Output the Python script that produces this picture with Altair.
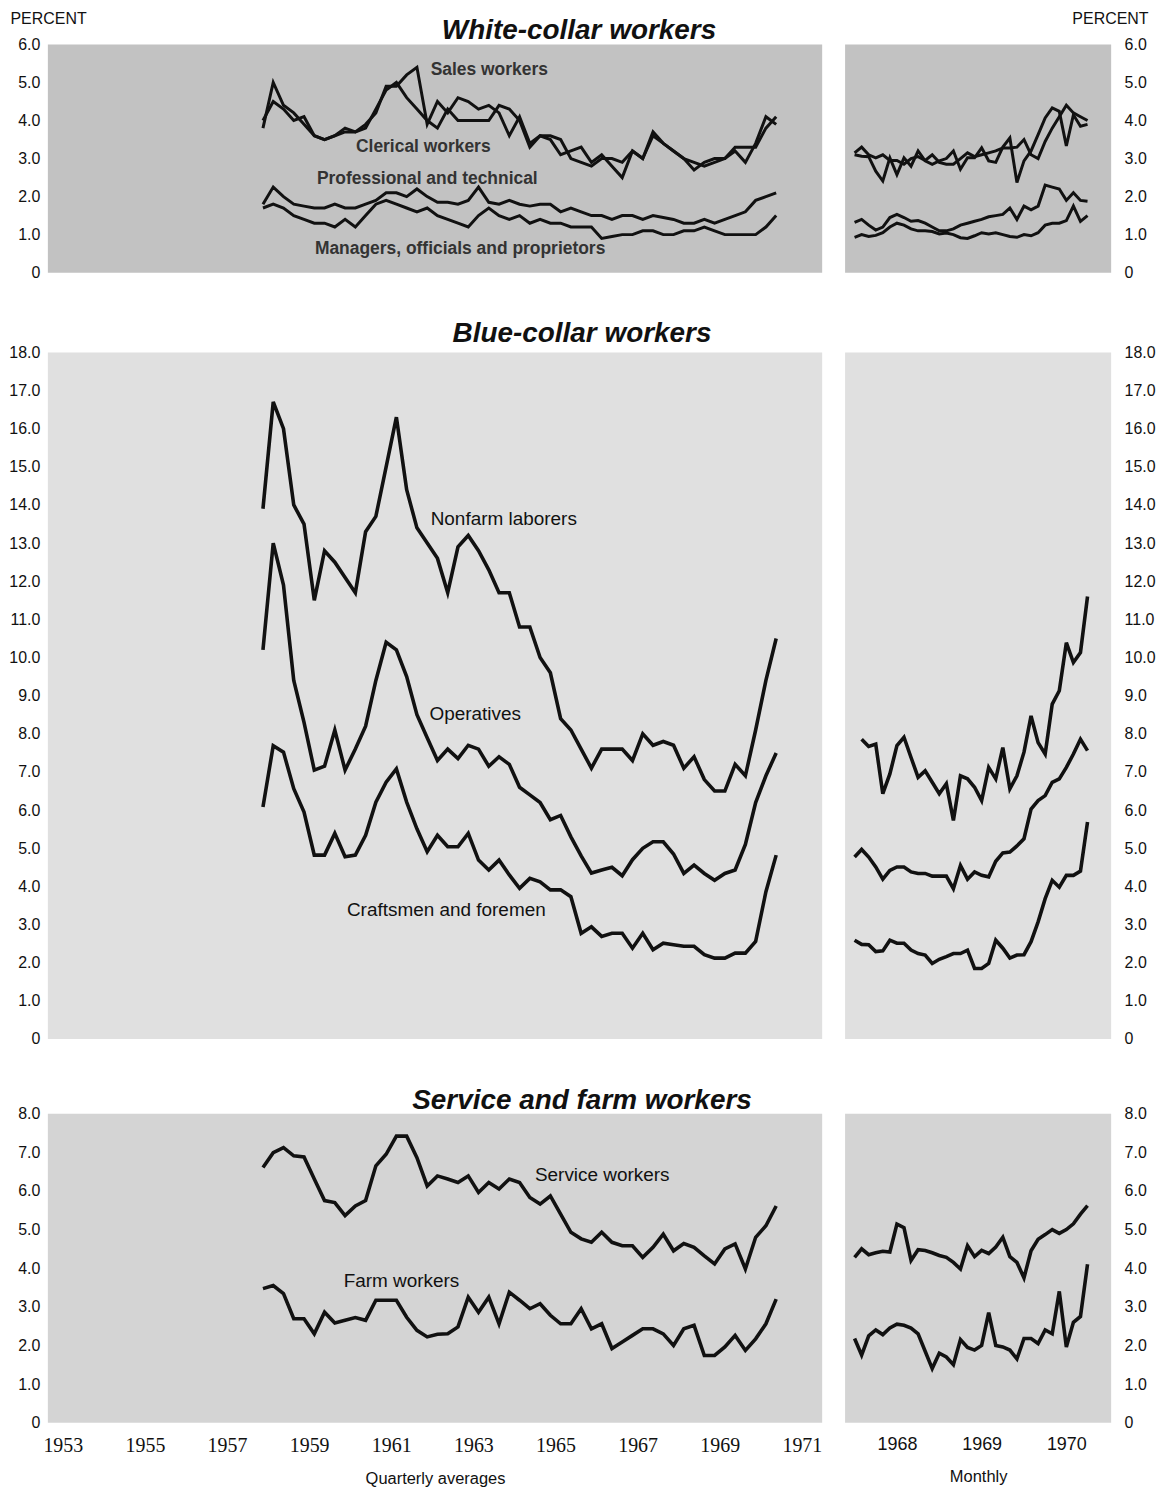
import altair as alt
import pandas as pd

FONT = "Liberation Sans"
SERIF = "Liberation Serif"
INK = "#111111"

# ---------------- time bases ----------------
Q_START = 1957.875      # first quarterly average (4th quarter 1957)
Q_STEP = 0.25
M_START = 1967.5        # first monthly point (July 1967)
M_STEP = 1.0 / 12.0

LEFT_YEARS = [1953, 1955, 1957, 1959, 1961, 1963, 1965, 1967, 1969, 1971]
RIGHT_YEARS = [1968, 1969, 1970]
LEFT_DOMAIN = [1952.636, 1971.495]
RIGHT_DOMAIN = [1967.388, 1970.529]

# ---------------- White-collar workers, quarterly ----------------
clerical_q = [3.8, 5.0, 4.4, 4.2, 3.9, 3.6, 3.5, 3.6, 3.7, 3.7,
              3.8, 4.3, 4.8, 5.0, 4.6, 4.3, 4.0, 3.8, 4.3, 4.0,
              4.0, 4.0, 4.0, 4.4, 4.3, 4.0, 3.3, 3.6, 3.6, 3.5,
              3.0, 2.9, 2.8, 3.0, 3.0, 2.9, 3.2, 3.0, 3.7, 3.4,
              3.2, 3.0, 2.9, 2.8, 2.9, 3.0, 3.3, 3.3, 3.3, 3.8,
              4.1]
sales_q = [4.0, 4.5, 4.3, 4.0, 4.1, 3.6, 3.5, 3.6, 3.8, 3.7,
           3.9, 4.2, 4.9, 4.9, 5.2, 5.4, 3.9, 4.5, 4.2, 4.6,
           4.5, 4.3, 4.4, 4.2, 3.6, 4.1, 3.4, 3.6, 3.5, 3.1,
           3.2, 3.3, 2.9, 3.1, 2.8, 2.5, 3.2, 3.0, 3.6, 3.4,
           3.2, 3.0, 2.7, 2.9, 3.0, 3.0, 3.2, 2.9, 3.4, 4.1,
           3.9]
prof_q = [1.8, 2.25, 2.0, 1.8, 1.75, 1.7, 1.7, 1.8, 1.7, 1.7,
          1.8, 1.9, 2.1, 2.1, 2.0, 2.2, 2.0, 1.85, 1.85, 1.8,
          1.9, 2.25, 1.85, 1.8, 1.9, 1.8, 1.75, 1.8, 1.8, 1.6,
          1.7, 1.6, 1.5, 1.5, 1.4, 1.5, 1.5, 1.4, 1.5, 1.45,
          1.4, 1.3, 1.3, 1.4, 1.3, 1.4, 1.5, 1.6, 1.9, 2.0,
          2.1]
mgr_q = [1.7, 1.8, 1.7, 1.5, 1.4, 1.3, 1.3, 1.2, 1.4, 1.2,
         1.5, 1.8, 1.9, 1.8, 1.7, 1.6, 1.7, 1.5, 1.4, 1.3,
         1.2, 1.5, 1.7, 1.5, 1.4, 1.5, 1.3, 1.4, 1.3, 1.3,
         1.2, 1.2, 1.2, 0.9, 0.95, 1.0, 1.0, 1.1, 1.1, 1.0,
         1.0, 1.1, 1.1, 1.2, 1.1, 1.0, 1.0, 1.0, 1.0, 1.2,
         1.5]

# ---------------- Blue-collar workers, quarterly ----------------
nonfarm_q = [13.9, 16.7, 16.0, 14.0, 13.5, 11.5, 12.8, 12.5, 12.1, 11.7,
             13.3, 13.7, 15.0, 16.3, 14.4, 13.4, 13.0, 12.6, 11.7, 12.9,
             13.2, 12.8, 12.3, 11.7, 11.7, 10.8, 10.8, 10.0, 9.6, 8.4,
             8.1, 7.6, 7.1, 7.6, 7.6, 7.6, 7.3, 8.0, 7.7, 7.8,
             7.7, 7.1, 7.4, 6.8, 6.5, 6.5, 7.2, 6.9, 8.1, 9.4,
             10.5]
oper_q = [10.2, 13.0, 11.9, 9.4, 8.3, 7.05, 7.15, 8.1, 7.05, 7.6,
          8.2, 9.4, 10.4, 10.2, 9.5, 8.5, 7.9, 7.3, 7.6, 7.35,
          7.7, 7.6, 7.15, 7.4, 7.2, 6.6, 6.4, 6.2, 5.75, 5.86,
          5.3, 4.8, 4.35, 4.43, 4.5, 4.28, 4.7, 5.0, 5.17, 5.17,
          4.85, 4.34, 4.56, 4.34, 4.16, 4.34, 4.43, 5.1, 6.2, 6.9,
          7.5]
craft_q = [6.08, 7.69, 7.52, 6.56, 5.95, 4.82, 4.82, 5.39, 4.78, 4.82,
           5.34, 6.21, 6.73, 7.08, 6.21, 5.51, 4.91, 5.34, 5.04, 5.04,
           5.39, 4.69, 4.43, 4.69, 4.3, 3.95, 4.21, 4.12, 3.91, 3.91,
           3.73, 2.77, 2.94, 2.69, 2.77, 2.77, 2.38, 2.77, 2.34, 2.51,
           2.47, 2.43, 2.43, 2.21, 2.12, 2.12, 2.25, 2.25, 2.56, 3.86,
           4.82]

# ---------------- Service and farm workers, quarterly ----------------
service_q = [6.61, 6.99, 7.12, 6.91, 6.88, 6.31, 5.75, 5.7, 5.36, 5.61,
             5.75, 6.65, 6.95, 7.42, 7.42, 6.86, 6.13, 6.39, 6.31, 6.22,
             6.39, 5.96, 6.22, 6.05, 6.31, 6.22, 5.83, 5.66, 5.87, 5.4,
             4.93, 4.76, 4.67, 4.93, 4.67, 4.58, 4.58, 4.28, 4.54, 4.88,
             4.45, 4.64, 4.54, 4.32, 4.11, 4.5, 4.63, 3.98, 4.8, 5.1,
             5.61]
farm_q = [3.47, 3.55, 3.34, 2.69, 2.69, 2.3, 2.86, 2.58, 2.65, 2.72,
          2.65, 3.17, 3.17, 3.17, 2.73, 2.39, 2.22, 2.29, 2.3, 2.48,
          3.25, 2.86, 3.25, 2.56, 3.38, 3.17, 2.95, 3.08, 2.78, 2.56,
          2.56, 2.95, 2.43, 2.56, 1.92, 2.09, 2.26, 2.43, 2.43, 2.3,
          2.0, 2.43, 2.52, 1.74, 1.74, 1.96, 2.26, 1.87, 2.17, 2.56,
          3.2]

# ---------------- Monthly series ----------------
clerical_m = [3.15, 3.3, 3.1, 3.02, 3.1, 2.95, 2.95, 2.85, 3.0, 3.05,
              2.95, 3.1, 2.9, 2.85, 2.85, 3.0, 3.15, 3.05, 3.1, 3.15,
              3.2, 3.28, 3.28, 3.3, 3.5, 3.1, 3.0, 3.45, 3.8, 4.1,
              4.4, 4.2, 4.1, 4.0]
sales_m = [3.1, 3.06, 3.05, 2.67, 2.41, 3.02, 2.58, 3.02, 2.8, 3.2,
           2.94, 2.85, 2.94, 3.0, 3.2, 2.72, 3.02, 3.02, 3.28, 2.94,
           2.9, 3.3, 3.54, 2.37, 2.94, 3.2, 3.63, 4.07, 4.33, 4.24,
           3.33, 4.15, 3.85, 3.9]
prof_m = [1.32, 1.4, 1.25, 1.12, 1.2, 1.45, 1.53, 1.45, 1.35, 1.37,
          1.3, 1.2, 1.1, 1.1, 1.15, 1.25, 1.3, 1.35, 1.4, 1.47,
          1.5, 1.53, 1.7, 1.4, 1.75, 1.65, 1.75, 2.3, 2.25, 2.2,
          1.9, 2.1, 1.9, 1.88]
mgr_m = [0.93, 1.0, 0.95, 0.98, 1.05, 1.2, 1.3, 1.25, 1.15, 1.1,
         1.1, 1.08, 1.02, 1.04, 1.0, 0.92, 0.9, 0.97, 1.05, 1.02,
         1.05, 1.0, 0.95, 0.93, 1.0, 0.97, 1.05, 1.25, 1.3, 1.3,
         1.37, 1.75, 1.35, 1.5]
nonfarm_m = [7.86, 7.67, 7.73, 6.43, 6.95, 7.69, 7.91, 7.38, 6.86, 7.03,
             6.73, 6.43, 6.69, 5.73, 6.9, 6.82, 6.6, 6.25, 7.12, 6.82,
             7.64, 6.56, 6.9, 7.52, 8.47, 7.77, 7.47, 8.78, 9.13, 10.39,
             9.87, 10.13, 11.6]          # starts August 1967
oper_m = [4.77, 4.97, 4.77, 4.51, 4.19, 4.42, 4.51, 4.51, 4.38, 4.34,
          4.34, 4.27, 4.27, 4.27, 3.94, 4.55, 4.19, 4.38, 4.29, 4.25,
          4.66, 4.88, 4.9, 5.06, 5.25, 6.03, 6.25, 6.38, 6.73, 6.82,
          7.12, 7.47, 7.86, 7.56]
craft_m = [2.59, 2.48, 2.47, 2.29, 2.31, 2.59, 2.51, 2.51, 2.33, 2.24,
           2.2, 1.98, 2.09, 2.16, 2.24, 2.24, 2.33, 1.85, 1.85, 1.98,
           2.59, 2.38, 2.12, 2.2, 2.21, 2.55, 3.07, 3.68, 4.16, 3.98,
           4.29, 4.29, 4.4, 5.69]
service_m = [4.28, 4.5, 4.35, 4.4, 4.44, 4.42, 5.14, 5.05, 4.2, 4.48,
             4.46, 4.4, 4.33, 4.28, 4.15, 3.98, 4.58, 4.3, 4.46, 4.38,
             4.55, 4.8, 4.3, 4.15, 3.75, 4.45, 4.75, 4.87, 5.0, 4.9,
             5.0, 5.15, 5.4, 5.62]
farm_m = [2.18, 1.75, 2.25, 2.4, 2.28, 2.45, 2.55, 2.52, 2.45, 2.3,
          1.85, 1.4, 1.8, 1.7, 1.5, 2.15, 1.95, 1.88, 2.0, 2.85,
          2.0, 1.96, 1.88, 1.65, 2.18, 2.18, 2.05, 2.4, 2.3, 3.4,
          1.96, 2.6, 2.75, 4.1]

# ---------------- in-chart series labels (data coordinates) ----------------
white_lab_text = ["Sales workers", "Clerical workers", "Professional and technical",
                  "Managers, officials and proprietors"]
white_lab_t = [1961.96, 1960.14, 1959.19, 1959.14]
white_lab_v = [5.34, 3.3, 2.46, 0.63]

blue_lab_text = ["Nonfarm laborers", "Operatives", "Craftsmen and foremen"]
blue_lab_t = [1961.96, 1961.93, 1959.92]
blue_lab_v = [13.64, 8.52, 3.37]

serv_lab_text = ["Service workers", "Farm workers"]
serv_lab_t = [1964.5, 1959.84]
serv_lab_v = [6.4, 3.66]


def build(series, start, step, offsets=None):
    rows = []
    offsets = offsets or {}
    for name, vals in series.items():
        off = offsets.get(name, 0)
        for i, v in enumerate(vals):
            rows.append({"series": name, "t": start + (i + off) * step, "value": v})
    return pd.DataFrame(rows)


def labels(texts, ts, vs):
    return pd.DataFrame({"text": texts, "t": ts, "value": vs})


white_q_df = build({"Clerical": clerical_q, "Sales": sales_q,
                    "Professional": prof_q, "Managers": mgr_q}, Q_START, Q_STEP)
blue_q_df = build({"Nonfarm": nonfarm_q, "Operatives": oper_q,
                   "Craftsmen": craft_q}, Q_START, Q_STEP)
serv_q_df = build({"Service": service_q, "Farm": farm_q}, Q_START, Q_STEP)

white_m_df = build({"Clerical": clerical_m, "Sales": sales_m,
                    "Professional": prof_m, "Managers": mgr_m}, M_START, M_STEP)
blue_m_df = build({"Nonfarm": nonfarm_m, "Operatives": oper_m,
                   "Craftsmen": craft_m}, M_START, M_STEP, {"Nonfarm": 1})
serv_m_df = build({"Service": service_m, "Farm": farm_m}, M_START, M_STEP)

LEFT_W = 777
RIGHT_W = 267
LABEL_EXPR = "datum.value == 0 ? '0' : format(datum.value, '.1f')"


def y_axis(side, ymax, percent):
    kw = dict(orient=side, values=list(range(0, ymax + 1)), labelExpr=LABEL_EXPR,
              domain=False, ticks=False, tickSize=0, grid=False,
              labelPadding=8 if side == "left" else 13,
              labelFont=FONT, labelFontSize=16, labelColor=INK,
              labelAlign="right" if side == "left" else "left")
    if percent:
        kw.update(title="PERCENT", titleAngle=0, titleFont=FONT, titleFontSize=16,
                  titleFontWeight="normal", titleColor=INK, titleBaseline="top",
                  titleY=-34, titleX=-38 if side == "left" else 37,
                  titleAlign="left" if side == "left" else "right")
    else:
        kw["title"] = None
    return alt.Axis(**kw)


def x_axis(years, title, font, size):
    return alt.Axis(values=years, format="d", labelFlush=False, labelOverlap=False,
                    domain=False, ticks=False, tickSize=0, grid=False,
                    labelFont=font, labelFontSize=size, labelColor=INK, labelPadding=13,
                    title=title, titleFont=FONT, titleFontSize=16.5,
                    titleFontWeight="normal", titleColor=INK, titlePadding=15)


def panel(df, lab_df, domain, years, xtitle, xfont, xsize, side, ymax, height, width,
          fill, bottom, percent, lw, lab_size=19, lab_color=INK, lab_weight="normal"):
    xa = x_axis(years, xtitle, xfont, xsize) if bottom else None
    x = alt.X("t:Q", scale=alt.Scale(domain=domain, nice=False, zero=False), axis=xa)
    y = alt.Y("value:Q", scale=alt.Scale(domain=[0, ymax], nice=False),
              axis=y_axis(side, ymax, percent))
    lines = alt.Chart(df).mark_line(color=INK, strokeWidth=lw, clip=True).encode(
        x=x, y=y, detail="series:N")
    layers = [lines]
    if lab_df is not None:
        layers.append(alt.Chart(lab_df).mark_text(
            align="left", baseline="middle", font=FONT, fontSize=lab_size,
            fontWeight=lab_weight, color=lab_color).encode(x=x, y=y, text="text:N"))
    return alt.layer(*layers).properties(
        width=width, height=height,
        view=alt.ViewBackground(fill=fill, strokeWidth=0))


def row(title, offset, left, right):
    return alt.hconcat(left, right, spacing=23).properties(
        title=alt.TitleParams(title, font=FONT, fontSize=28, fontStyle="italic",
                              fontWeight="bold", color=INK, anchor="middle",
                              offset=offset))


row1 = row("White-collar workers", -35,
           panel(white_q_df, labels(white_lab_text, white_lab_t, white_lab_v),
                 LEFT_DOMAIN, LEFT_YEARS, "Quarterly averages", SERIF, 20, "left", 6,
                 229, LEFT_W, "#c2c2c2", False, True, 3.0, 17.5, "#333333", "bold"),
           panel(white_m_df, None, RIGHT_DOMAIN, RIGHT_YEARS, "Monthly", FONT, 18,
                 "right", 6, 229, RIGHT_W, "#c2c2c2", False, True, 3.0))
row2 = row("Blue-collar workers", -4,
           panel(blue_q_df, labels(blue_lab_text, blue_lab_t, blue_lab_v),
                 LEFT_DOMAIN, LEFT_YEARS, "Quarterly averages", SERIF, 20, "left", 18,
                 689, LEFT_W, "#e0e0e0", False, False, 3.6),
           panel(blue_m_df, None, RIGHT_DOMAIN, RIGHT_YEARS, "Monthly", FONT, 18,
                 "right", 18, 689, RIGHT_W, "#e0e0e0", False, False, 3.6))
row3 = row("Service and farm workers", -9,
           panel(serv_q_df, labels(serv_lab_text, serv_lab_t, serv_lab_v),
                 LEFT_DOMAIN, LEFT_YEARS, "Quarterly averages", SERIF, 20, "left", 8,
                 310, LEFT_W, "#d4d4d4", True, False, 3.6),
           panel(serv_m_df, None, RIGHT_DOMAIN, RIGHT_YEARS, "Monthly", FONT, 18,
                 "right", 8, 310, RIGHT_W, "#d4d4d4", True, False, 3.6))

chart = alt.vconcat(row1, row2, row3, spacing=40).properties(
    padding=0, background="white"
).configure_view(strokeWidth=0)

chart.save("out.html", embed_options={"renderer": "svg", "actions": False})
